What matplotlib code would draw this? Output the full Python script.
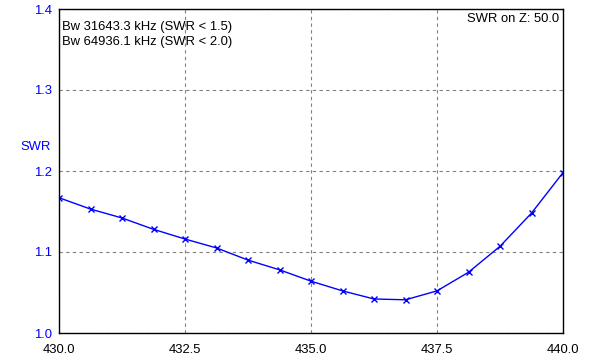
import matplotlib
matplotlib.use("Agg")
import matplotlib.pyplot as plt

# frequency in MHz, SWR
freq = [430.0, 430.625, 431.25, 431.875, 432.5, 433.125, 433.75, 434.375, 435.0,
        435.625, 436.25, 436.875, 437.5, 438.125, 438.75, 439.375, 440.0]
swr = [1.167, 1.153, 1.142, 1.128, 1.116, 1.105, 1.090, 1.078, 1.064,
       1.052, 1.042, 1.041, 1.052, 1.075, 1.107, 1.148, 1.198]

xticks = [430.0, 432.5, 435.0, 437.5, 440.0]
yticks = [1.0, 1.1, 1.2, 1.3, 1.4]

bw_lines = ["Bw 31643.3 kHz (SWR < 1.5)", "Bw 64936.1 kHz (SWR < 2.0)"]
z_text = "SWR on Z: 50.0"

plt.rcParams['font.family'] = ['Liberation Sans', 'DejaVu Sans']
fs = 9.4

fig = plt.figure(figsize=(6.1, 3.6), dpi=100)
ax = fig.add_axes([59 / 610, 1 - 333 / 360, 504 / 610, 324 / 360])

ax.plot(freq, swr, color='#0000ff', linewidth=1.0, marker='x', markersize=5,
        markeredgewidth=1.0)

ax.set_xlim(430.0, 440.0)
ax.set_ylim(1.0, 1.4)
ax.set_xticks(xticks)
ax.set_xticklabels([f"{t:.1f}" for t in xticks])
ax.set_yticks(yticks)
ax.set_yticklabels([f"{t:.1f}" for t in yticks], color='#0000ff')
ax.tick_params(length=0, labelsize=fs)
ax.tick_params(axis='x', pad=8)
ax.tick_params(axis='y', pad=5)
ax.grid(True, color='#808080', linestyle=(0, (3, 3)), linewidth=0.8)

for s in ax.spines.values():
    s.set_color('black')
    s.set_linewidth(1.0)

# annotation texts placed in figure pixel terms
fig.text(62 / 610, 1 - 21 / 360, "\n".join(bw_lines), ha='left', va='top',
         fontsize=fs, linespacing=1.3)
fig.text(559 / 610, 1 - 13 / 360, z_text, ha='right', va='top', fontsize=fs)

fig.text(20 / 610, 1 - 147 / 360, "SWR", color='#0000ff', fontsize=fs,
         ha='left', va='center')

fig.savefig("out.png", dpi=100)
